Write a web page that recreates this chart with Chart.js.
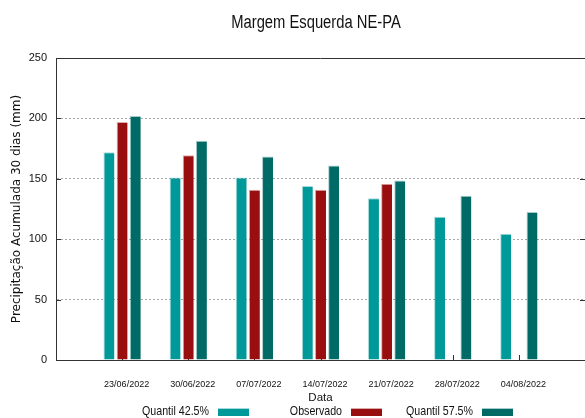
<!DOCTYPE html>
<html>
<head>
<meta charset="utf-8">
<script src="https://cdn.jsdelivr.net/npm/chart.js@4"></script>
<style>
  html, body { margin: 0; padding: 0; background: #fff; }
  canvas { display: block; }
</style>
</head>
<body>
<canvas id="chuvaChart" width="585" height="418"></canvas>
<script>
const datas = ["23/06/2022", "30/06/2022", "07/07/2022", "14/07/2022", "21/07/2022", "28/07/2022", "04/08/2022"];
const quantil425 = [172, 151, 151, 144, 134, 118.5, 104.5];
const observado = [197, 169.5, 141, 141, 146, null, null];
const quantil575 = [202, 181.5, 168.5, 161, 148.5, 136, 122.5];
const yTicks = [0, 50, 100, 150, 200, 250];

const sans = "'Liberation Sans', Arial, sans-serif";

// empty slots at both ends, like gnuplot's xrange
const pad = arr => [null, ...arr, null];
const labels = ["", ...datas, ""];

// narrow text: squeeze Liberation Sans horizontally
function narrowText(ctx, text, x, y, size, align) {
  ctx.save();
  ctx.translate(x, y);
  ctx.scale(0.82, 1);
  ctx.font = size + "px " + sans;
  ctx.textAlign = align;
  ctx.textBaseline = "middle";
  ctx.fillText(text, 0, 0);
  ctx.restore();
}

// title, frame, inward ticks and legend drawn gnuplot-style
const gnuplotDecor = {
  id: "gnuplotDecor",
  beforeDatasetsDraw(chart) {
    const { ctx, chartArea: a, scales } = chart;
    ctx.save();
    ctx.strokeStyle = "#333";
    ctx.lineWidth = 1;
    ctx.beginPath();
    yTicks.forEach(v => {
      const y = Math.round(scales.y.getPixelForValue(v)) + 0.5;
      ctx.moveTo(a.left, y); ctx.lineTo(a.left + 5, y);
      ctx.moveTo(a.right - 5, y); ctx.lineTo(a.right, y);
    });
    datas.forEach((d, i) => {
      const x = Math.round(scales.x.getPixelForValue(i + 1)) + 0.5;
      ctx.moveTo(x, a.bottom); ctx.lineTo(x, a.bottom - 5);
    });
    ctx.stroke();
    ctx.restore();
  },
  afterDraw(chart) {
    const { ctx, chartArea: a } = chart;
    ctx.save();
    ctx.strokeStyle = "#333";
    ctx.lineWidth = 1;
    ctx.beginPath();
    ctx.moveTo(a.left, Math.round(a.top) + 0.5);
    ctx.lineTo(a.right, Math.round(a.top) + 0.5);
    ctx.stroke();

    ctx.fillStyle = "#111";
    narrowText(ctx, "Margem Esquerda NE-PA", 316, 23, 18, "center");

    // legend: text right-aligned, swatch to its right
    const ends = [209, 342, 473];
    chart.data.datasets.forEach((ds, i) => {
      ctx.fillStyle = "#111";
      narrowText(ctx, ds.label, ends[i], 411, 13, "right");
      ctx.fillStyle = ds.borderColor;
      ctx.fillRect(ends[i] + 9, 408, 31, 8);
      ctx.fillStyle = ds.backgroundColor;
      ctx.fillRect(ends[i] + 9, 409, 31, 7);
    });
    ctx.restore();
  }
};

const ctx = document.getElementById("chuvaChart");
const chart = new Chart(ctx, {
  type: "bar",
  data: {
    labels: labels,
    datasets: [
      { label: "Quantil 42.5%", data: pad(quantil425), backgroundColor: "#009999", borderColor: "rgba(0,153,153,0.35)" },
      { label: "Observado", data: pad(observado), backgroundColor: "#990f0f", borderColor: "rgba(153,15,15,0.35)" },
      { label: "Quantil 57.5%", data: pad(quantil575), backgroundColor: "#006a66", borderColor: "rgba(0,106,102,0.35)" }
    ]
  },
  options: {
    responsive: false,
    animation: false,
    devicePixelRatio: 1,
    layout: { padding: { top: 58, right: -2, bottom: 0, left: 0 } },
    datasets: {
      bar: {
        categoryPercentage: 0.597,
        barPercentage: 0.835,
        borderWidth: { top: 1, left: 1, right: 0, bottom: 0 },
        borderSkipped: false
      }
    },
    plugins: {
      legend: { display: false },
      title: { display: false },
      tooltip: { enabled: false }
    },
    scales: {
      x: {
        offset: false,
        grid: { display: false, drawTicks: false },
        border: { display: true, color: "#333", width: 1 },
        ticks: {
          color: "#111",
          font: { family: sans, size: 9 },
          padding: 19.5,
          labelOffset: 4.5,
          maxRotation: 0,
          autoSkip: false
        },
        title: {
          display: true,
          text: "Data",
          color: "#111",
          font: { family: sans, size: 11.5 },
          padding: { top: 0, bottom: 13 }
        },
        afterFit: s => { s.height = 58; s.paddingLeft = 0; s.paddingRight = 0; }
      },
      y: {
        min: 0,
        max: 250,
        grid: { color: "#aaa", lineWidth: 1, drawTicks: false },
        border: { display: true, color: "#333", width: 1, dash: [2, 2] },
        ticks: {
          stepSize: 50,
          color: "#111",
          font: { family: sans, size: 11 },
          padding: 9
        },
        title: {
          display: true,
          text: "Precipitação Acumulada 30 dias (mm)",
          color: "#111",
          font: { family: "'DejaVu Sans', sans-serif", size: 12 },
          padding: { top: 10, bottom: 0 }
        },
        afterFit: s => { s.width = 56; }
      }
    }
  },
  plugins: [gnuplotDecor]
});
</script>
</body>
</html>
